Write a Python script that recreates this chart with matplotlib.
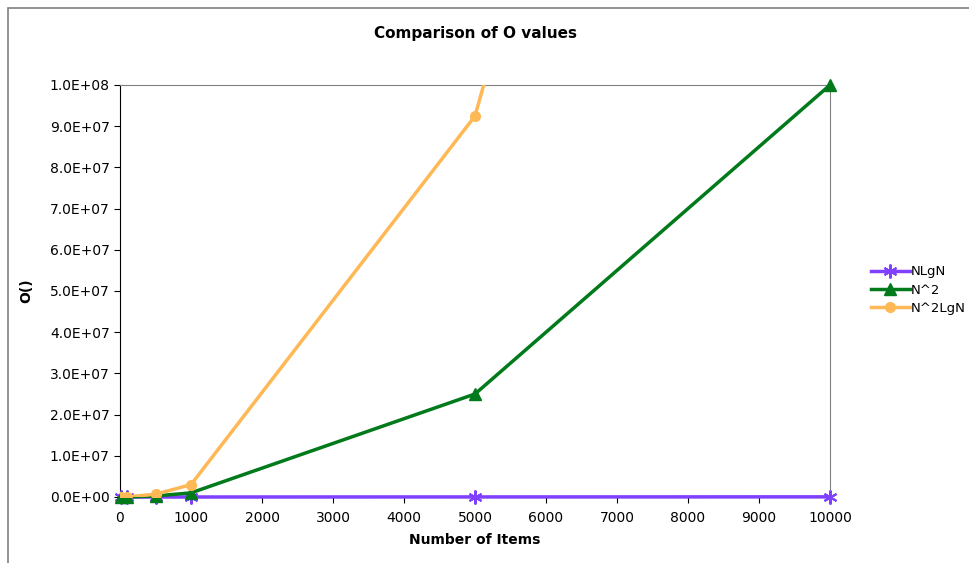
import matplotlib
matplotlib.use("Agg")
import matplotlib.pyplot as plt
from matplotlib.ticker import FuncFormatter, MultipleLocator
from matplotlib.patches import Rectangle

n_items = [10, 100, 500, 1000, 5000, 10000]
nlgn = [10, 200, 1349, 3000, 18495, 40000]
n2 = [100, 10000, 250000, 1000000, 25000000, 100000000]
n2lgn = [100, 20000, 674743, 3000000, 92474250, 400000000]

title = "Comparison of O values"
xlabel = "Number of Items"
ylabel = "O()"

fig = plt.figure(figsize=(9.69, 5.63), dpi=100)
# outer chart border (partially cropped)
fig.patches.append(Rectangle((8/969, -0.1), 1.2, 1 - 8/563 + 0.1, transform=fig.transFigure,
                             fill=False, edgecolor="#808080", linewidth=1.2))
ax = fig.add_axes([120/969, 1 - 497/563, 710/969, 412/563])

ax.plot(n_items, nlgn, color="#8040ff", linewidth=2.5, marker=(6, 2, 0), markersize=10,
        markeredgewidth=1.5, label="NLgN", clip_on=False, zorder=3)
ax.plot(n_items, n2, color="#007a1a", linewidth=2.5, marker="^", markersize=8,
        label="N^2", clip_on=False, zorder=3)
ax.plot(n_items, n2lgn, color="#ffb856", linewidth=2.5, marker="o", markersize=7,
        label="N^2LgN", clip_on=True, zorder=4)

ax.set_xlim(0, 10000)
ax.set_ylim(0, 1e8)
ax.xaxis.set_major_locator(MultipleLocator(1000))
ax.yaxis.set_major_locator(MultipleLocator(1e7))
ax.yaxis.set_major_formatter(FuncFormatter(lambda v, p: "%.1fE+%02d" % (v / 10**(len(str(int(v))) - 1) if v >= 1 else 0, (len(str(int(v))) - 1) if v >= 1 else 0)))

for s in ["top", "right"]:
    ax.spines[s].set_color("#808080")
for s in ["left", "bottom"]:
    ax.spines[s].set_color("black")
ax.tick_params(axis="both", direction="out", length=4, labelsize=10, colors="black")
ax.tick_params(axis="x", pad=6)

ax.set_title(title, fontsize=11, fontweight="bold", pad=34)
ax.set_xlabel(xlabel, fontsize=10, fontweight="bold", labelpad=6)
ax.set_ylabel(ylabel, fontsize=10, fontweight="bold", labelpad=12)

leg = ax.legend(loc="center left", bbox_to_anchor=(866/969, 1 - 290/563),
                bbox_transform=fig.transFigure, frameon=False, fontsize=9.5,
                handlelength=2.9, handletextpad=0.1, labelspacing=0.4, borderaxespad=0)

fig.savefig("out.png", dpi=100)
